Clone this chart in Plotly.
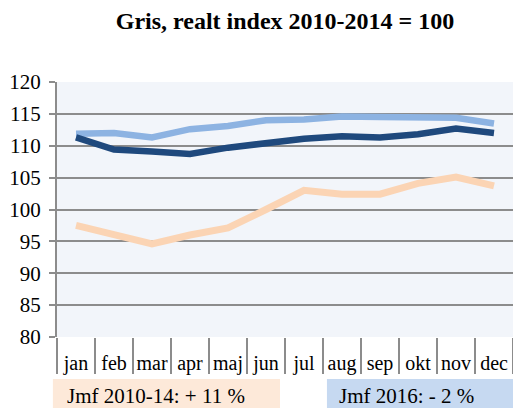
import plotly.graph_objects as go

months = ["jan", "feb", "mar", "apr", "maj", "jun", "jul", "aug", "sep", "okt", "nov", "dec"]
jmf_2010_14 = [97.5, 96.0, 94.6, 96.0, 97.1, 100.0, 103.0, 102.4, 102.4, 104.1, 105.1, 103.7]
pris_2016 = [111.3, 109.4, 109.1, 108.7, 109.7, 110.4, 111.1, 111.5, 111.3, 111.8, 112.7, 112.0]
pris_2015 = [111.9, 112.0, 111.3, 112.6, 113.1, 114.0, 114.1, 114.6, 114.5, 114.4, 114.4, 113.5]
y_ticks = [80, 85, 90, 95, 100, 105, 110, 115, 120]
box_left_text = "Jmf 2010-14: + 11 %"
box_right_text = "Jmf 2016: - 2 %"

FONT = "Liberation Serif, Times New Roman, serif"
GRID = "#8c8c8c"

fig = go.Figure()
fig.add_trace(go.Scatter(x=months, y=jmf_2010_14, mode="lines",
                         line=dict(color="#fbd4b4", width=7), showlegend=False, hoverinfo="skip"))
fig.add_trace(go.Scatter(x=months, y=pris_2015, mode="lines",
                         line=dict(color="#8db3e2", width=6.5), showlegend=False, hoverinfo="skip"))
fig.add_trace(go.Scatter(x=months, y=pris_2016, mode="lines",
                         line=dict(color="#1f497d", width=6.5), showlegend=False, hoverinfo="skip"))

fig.update_layout(
    width=513, height=408,
    margin=dict(l=57, r=0, t=82, b=71, autoexpand=False),
    paper_bgcolor="white",
    plot_bgcolor="#f2f5fa",
    font=dict(family=FONT, color="black", size=20),
    title=dict(text="<b>Gris, realt index 2010-2014 = 100</b>",
               font=dict(family=FONT, size=24, color="black"),
               x=0.5, xref="paper", xanchor="center", y=0.95, yanchor="middle"),
    xaxis=dict(
        type="category", range=[-0.5, 11.5], showgrid=False, zeroline=False,
        ticks="outside", tickson="boundaries", ticklen=36, tickwidth=2, tickcolor=GRID,
        tickfont=dict(family=FONT, size=20), ticklabelstandoff=12, tickangle=0,
        showline=False, automargin=False,
    ),
    yaxis=dict(
        range=[80, 120], tickvals=y_ticks, showgrid=True, gridcolor=GRID, gridwidth=2,
        zeroline=False, showline=True, linecolor=GRID, linewidth=2,
        ticks="outside", ticklen=6, tickwidth=2, tickcolor=GRID,
        tickfont=dict(family=FONT, size=21), ticklabelstandoff=4, automargin=False,
    ),
    shapes=[
        dict(type="rect", xref="paper", yref="paper", x0=-0.009, x1=0.489, y0=-0.36, y1=-0.165,
             fillcolor="#fde9d9", line=dict(width=0), layer="below"),
        dict(type="rect", xref="paper", yref="paper", x0=0.592, x1=1.01, y0=-0.36, y1=-0.165,
             fillcolor="#c6d9f1", line=dict(width=0), layer="below"),
    ],
    annotations=[
        dict(text=box_left_text, xref="paper", yref="paper", x=0.0175, y=-0.233,
             xanchor="left", yanchor="middle", showarrow=False, font=dict(family=FONT, size=21)),
        dict(text=box_right_text, xref="paper", yref="paper", x=0.615, y=-0.233,
             xanchor="left", yanchor="middle", showarrow=False, font=dict(family=FONT, size=21)),
    ],
)

fig.write_html("out.html", config={"displayModeBar": False},
               post_script="document.body.style.margin='0';document.body.style.overflow='hidden';")
